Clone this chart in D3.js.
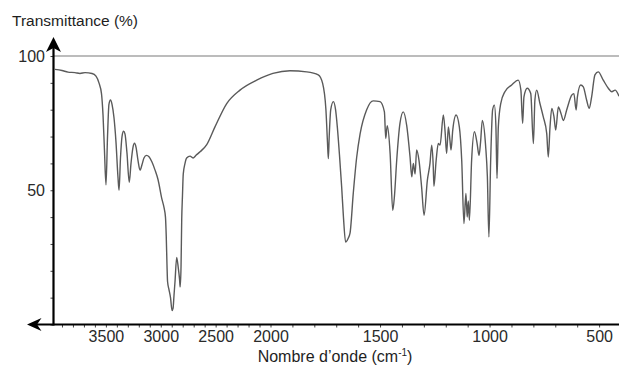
<!DOCTYPE html>
<html><head><meta charset="utf-8">
<script src="https://cdn.jsdelivr.net/npm/d3@7"></script>
<style>
body{margin:0;background:#fff}
svg{display:block}
text{font-family:"Liberation Sans",Arial,Helvetica,sans-serif}
</style>
</head><body>
<svg id="chart" width="619" height="367"></svg>
<script>
// Wavenumber (cm-1) of each sampled point of the spectrum
const wavenumbers = [3964,3900,3845,3781,3736,3690,3626,3590,3563,3540,3526,3513,3499,3485,3472,3458,3444,3426,3408,3390,3380,3367,3353,3339,3326,3308,3287,3271,3253,3239,3225,3207,3189,3171,3153,3130,3107,3080,3052,3025,2991,2970,2957,2950,2943,2938,2925,2911,2897,2888,2879,2870,2855,2840,2829,2823,2815,2809,2802,2795,2779,2764,2733,2706,2679,2642,2581,2506,2399,2278,2126,1989,1911,1835,1782,1762,1747,1740,1736,1732,1725,1713,1703,1695,1685,1675,1667,1657,1646,1637,1622,1607,1591,1561,1531,1500,1480,1474,1467,1454,1442,1434,1424,1409,1394,1378,1363,1355,1348,1340,1333,1322,1310,1299,1284,1272,1264,1257,1254,1244,1234,1226,1211,1203,1196,1188,1181,1176,1168,1153,1138,1127,1117,1108,1102,1097,1092,1082,1069,1057,1048,1041,1033,1018,1010,1003,995,986,978,971,966,960,949,930,899,869,857,849,843,828,812,800,793,785,770,755,739,732,724,716,706,698,686,674,663,648,625,615,605,599,584,572,557,545,534,519,504,481,458,442,427,409];
// Transmittance (%) at each wavenumber
const transmittance = [95,94.6,94.0,93.8,93.5,93.8,93.5,92.5,90,86,78,65,52,70,82,83.6,82,77,68,55,50,62,70,72,71,64,53,60,66,67.5,66,61,57.5,59.5,62,63,62.5,60.5,57.5,54,47,43.5,40,33,22,16,13,10,5.2,6,11,16,25,21,17,14,22,39,48,56,60,62,62.7,62,63,64.3,67,73.6,82.3,87.3,91,93.5,94.5,94.1,93,89.8,80,68,61.8,70,80,83,80,73.6,63,51,40,30.7,32,34,49,62,71,80,83.3,83,79.2,69.3,74,63.8,42.5,48,61,74.9,79.2,74,62.4,55,60,56,65,61,51,40.7,53.7,60,66.8,58.7,51.5,61,67.4,66.8,78,71.8,63.7,73.6,68.7,65,72.4,78,73.6,61,37.6,48.8,40,46,38.8,61,71.8,67.5,63,68,76,66.5,55,32.6,61,80,81.7,73.6,54.4,73.6,82.3,86.7,89.2,91,87.3,74.9,84.8,88,86,67.4,83.6,87.3,82.3,77.4,71.1,62.4,73.6,80.5,77.4,72.4,81,78.6,76,79.9,85.4,86,79.9,84.8,89.2,88.5,83.6,80.5,84.8,93,94.1,91,88,86.7,87.3,85];
// Tick labels
const xTickLabels = [3500,3000,2500,2000,1500,1000,500];
const yTickLabels = [100,50];
const xMinorTicks = d3.range(3900, 400, -100);
const yMinorTicks = d3.range(0, 101, 10);

const svg = d3.select("#chart");
const x = d3.scaleLinear().domain([4000, 2000, 400]).range([51, 270.5, 621]);
const y = d3.scaleLinear().domain([0, 100]).range([324.5, 56]);
const axisX = 53.5, axisY = y(0), rightEdge = 619;

// 100% reference line
svg.append("line")
  .attr("x1", axisX).attr("x2", rightEdge)
  .attr("y1", y(100)).attr("y2", y(100))
  .attr("stroke", "#7a7a7a").attr("stroke-width", 1.2);

// Clip for spectrum
svg.append("defs").append("clipPath").attr("id", "plot")
  .append("rect").attr("x", axisX).attr("y", 0).attr("width", rightEdge - axisX).attr("height", axisY);

const pts = wavenumbers.map((w, i) => [w, transmittance[i]]);
const line = d3.line().x(d => x(d[0])).y(d => y(d[1])).curve(d3.curveMonotoneX);
svg.append("path")
  .attr("clip-path", "url(#plot)")
  .attr("d", line(pts))
  .attr("fill", "none")
  .attr("stroke", "#5a5a5a")
  .attr("stroke-width", 1.4)
  .attr("stroke-linejoin", "round");

// X axis ticks + labels
const gx = svg.append("g").attr("transform", `translate(0,${axisY})`)
  .call(d3.axisBottom(x).tickValues(xMinorTicks).tickSize(3).tickPadding(3)
    .tickFormat(d => xTickLabels.includes(d) ? d : ""));
gx.select(".domain").remove();
gx.selectAll(".tick line").attr("stroke", "#444");
gx.selectAll(".tick text").attr("fill", "#2a2a2a").style("font-size", "16px");

// Y axis ticks + labels
const gy = svg.append("g").attr("transform", `translate(${axisX},0)`)
  .call(d3.axisLeft(y).tickValues(yMinorTicks).tickSize(3).tickPadding(5.5)
    .tickFormat(d => yTickLabels.includes(d) ? d : ""));
gy.select(".domain").remove();
gy.selectAll(".tick line").attr("stroke", "#444");
gy.selectAll(".tick text").attr("fill", "#2a2a2a").style("font-size", "16px");

// Axis lines with arrows
svg.append("line").attr("x1", axisX).attr("x2", axisX).attr("y1", axisY + 1).attr("y2", 47)
  .attr("stroke", "#000").attr("stroke-width", 2.2);
svg.append("line").attr("x1", 36).attr("x2", rightEdge).attr("y1", axisY).attr("y2", axisY)
  .attr("stroke", "#000").attr("stroke-width", 2.2);
svg.append("path").attr("d", `M${axisX},37 L${axisX + 7.5},52 L${axisX},48 L${axisX - 7.5},52 Z`).attr("fill", "#000");
svg.append("path").attr("d", `M27,${axisY} L41.5,${axisY - 6.5} L37,${axisY} L41.5,${axisY + 6.5} Z`).attr("fill", "#000");

// Titles
svg.append("text").attr("x", 12).attr("y", 26).attr("fill", "#1e1e1e")
  .style("font-size", "15.5px").text("Transmittance (%)");
const xl = svg.append("text").attr("x", 335).attr("y", 362).attr("text-anchor", "middle")
  .attr("fill", "#1e1e1e").style("font-size", "16px");
xl.append("tspan").text("Nombre d\u2019onde (cm");
xl.append("tspan").attr("dy", -6).style("font-size", "10px").text("-1");
xl.append("tspan").attr("dy", 6).text(")");
</script>
</body></html>
